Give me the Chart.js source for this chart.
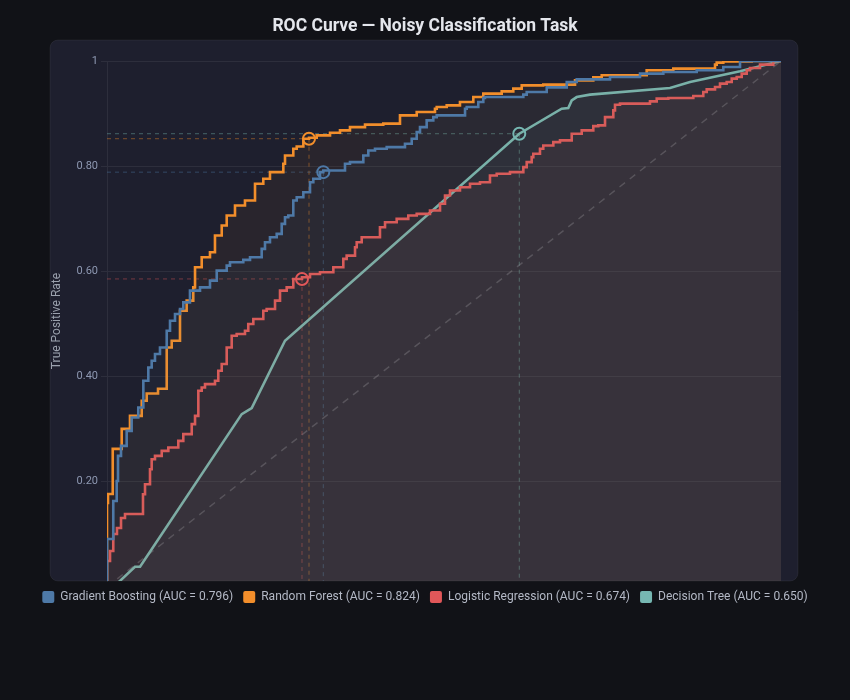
<!DOCTYPE html>
<html>
<head>
<meta charset="utf-8">
<title>ROC Curve</title>
<script src="https://cdn.jsdelivr.net/npm/chart.js@4/dist/chart.umd.min.js"></script>
<style>
  html, body { margin: 0; padding: 0; background: #111217; }
  #wrap { width: 850px; height: 700px; position: relative; }
</style>
</head>
<body>
<div id="wrap"><canvas id="roc"></canvas></div>
<script>
// ---- data ----
const modelNames = ['Gradient Boosting', 'Random Forest', 'Logistic Regression', 'Decision Tree'];
const aucValues = [0.796, 0.824, 0.674, 0.650];
const yTicks = [0.2, 0.4, 0.6, 0.8, 1];

const gbFpr = [0, 0.0045, 0.0093, 0.0144, 0.0163, 0.0208, 0.0292, 0.0366, 0.0464, 0.0539, 0.0613, 0.0663, 0.0712, 0.0786, 0.0886, 0.0935, 0.1009, 0.1083, 0.1132, 0.1231, 0.1231, 0.138, 0.1528, 0.1628, 0.1776, 0.1825, 0.2022, 0.2122, 0.2295, 0.2344, 0.2418, 0.2518, 0.2592, 0.2641, 0.269, 0.2764, 0.2815, 0.2913, 0.3012, 0.3061, 0.316, 0.3209, 0.3531, 0.3605, 0.3803, 0.3877, 0.3976, 0.415, 0.4421, 0.4521, 0.4595, 0.4644, 0.4743, 0.4841, 0.4892, 0.5312, 0.5337, 0.5509, 0.5583, 0.5608, 0.6177, 0.6227, 0.6524, 0.6821, 0.6969, 0.7463, 0.7908, 0.8254, 0.8749, 0.9144, 0.9392, 1];
const gbTpr = [0, 0.0909, 0.0909, 0.1632, 0.2013, 0.249, 0.268, 0.2966, 0.3219, 0.341, 0.3918, 0.4171, 0.4299, 0.4427, 0.4552, 0.487, 0.5061, 0.5189, 0.5284, 0.541, 0.5505, 0.5632, 0.5695, 0.5823, 0.6013, 0.6109, 0.6171, 0.6217, 0.6267, 0.6427, 0.6552, 0.6648, 0.6712, 0.6903, 0.7029, 0.7061, 0.7347, 0.741, 0.7505, 0.7695, 0.776, 0.7886, 0.7918, 0.8046, 0.8076, 0.8204, 0.8299, 0.8331, 0.8362, 0.8427, 0.8522, 0.8648, 0.8743, 0.887, 0.8933, 0.8966, 0.9093, 0.9124, 0.9219, 0.9295, 0.9314, 0.936, 0.941, 0.9499, 0.96, 0.9651, 0.9695, 0.976, 0.979, 0.9823, 0.9886, 1];

const rfFpr = [0, 0.0015, 0.0085, 0.0218, 0.0341, 0.0515, 0.0589, 0.0757, 0.0886, 0.0886, 0.096, 0.1083, 0.1083, 0.1182, 0.128, 0.1306, 0.1405, 0.1528, 0.1602, 0.1702, 0.1776, 0.1899, 0.2047, 0.2196, 0.2319, 0.2418, 0.2616, 0.2641, 0.2764, 0.2815, 0.2913, 0.2997, 0.3111, 0.3309, 0.3457, 0.3605, 0.3828, 0.4099, 0.4347, 0.4347, 0.4595, 0.4866, 0.4892, 0.504, 0.5237, 0.5435, 0.5583, 0.5856, 0.6028, 0.6153, 0.6473, 0.6944, 0.7215, 0.734, 0.8007, 0.8402, 0.9021, 0.9046, 0.9144, 0.9565, 1];
const rfTpr = [0, 0.1594, 0.1766, 0.2623, 0.3004, 0.3251, 0.3537, 0.3676, 0.3766, 0.4299, 0.4552, 0.468, 0.5029, 0.5251, 0.5442, 0.5695, 0.6076, 0.6267, 0.6362, 0.668, 0.687, 0.7061, 0.7251, 0.7347, 0.7665, 0.776, 0.7886, 0.8046, 0.8204, 0.8331, 0.8375, 0.8522, 0.8541, 0.8585, 0.8636, 0.868, 0.8743, 0.8789, 0.8808, 0.8903, 0.8966, 0.9029, 0.9093, 0.9124, 0.9156, 0.9219, 0.9314, 0.9379, 0.9423, 0.9474, 0.9537, 0.955, 0.9632, 0.969, 0.9728, 0.9823, 0.9855, 0.9931, 0.9969, 0.999, 1];

const lrFpr = [0, 0, 0.0045, 0.0093, 0.0148, 0.0208, 0.0267, 0.0297, 0.0534, 0.0564, 0.0638, 0.0663, 0.0712, 0.0812, 0.091, 0.1058, 0.1132, 0.1257, 0.1306, 0.1355, 0.1405, 0.1454, 0.1602, 0.1651, 0.1702, 0.1776, 0.185, 0.1924, 0.2047, 0.2096, 0.2171, 0.2319, 0.2369, 0.2493, 0.2567, 0.2666, 0.2764, 0.2893, 0.3012, 0.316, 0.3358, 0.3506, 0.3556, 0.368, 0.3705, 0.3779, 0.405, 0.4125, 0.4298, 0.447, 0.4595, 0.4792, 0.4941, 0.5015, 0.5089, 0.5237, 0.5386, 0.5534, 0.5682, 0.5782, 0.5979, 0.6177, 0.6227, 0.6301, 0.6325, 0.6424, 0.6473, 0.6622, 0.6721, 0.6895, 0.7043, 0.7215, 0.7289, 0.7389, 0.7512, 0.7537, 0.7611, 0.8056, 0.8156, 0.8328, 0.8699, 0.8847, 0.8898, 0.9021, 0.9095, 0.9194, 0.9269, 0.9343, 0.9417, 0.9491, 0.954, 0.9688, 0.9886, 1];
const lrTpr = [0, 0.0432, 0.049, 0.068, 0.1004, 0.1118, 0.1309, 0.1385, 0.1385, 0.176, 0.195, 0.2236, 0.2427, 0.249, 0.2585, 0.2648, 0.2775, 0.2903, 0.3093, 0.3251, 0.3728, 0.379, 0.3855, 0.3918, 0.4109, 0.4236, 0.4552, 0.4775, 0.4808, 0.487, 0.4998, 0.5093, 0.5251, 0.5284, 0.5442, 0.5632, 0.5695, 0.5855, 0.5886, 0.595, 0.5981, 0.6076, 0.6236, 0.6299, 0.6457, 0.6552, 0.6648, 0.6838, 0.6933, 0.6998, 0.7061, 0.7093, 0.7156, 0.7284, 0.7442, 0.7537, 0.76, 0.7665, 0.7695, 0.7823, 0.7855, 0.7886, 0.7981, 0.8076, 0.8171, 0.8236, 0.8331, 0.8394, 0.8457, 0.849, 0.8617, 0.868, 0.8762, 0.8775, 0.8933, 0.9061, 0.9169, 0.9189, 0.9232, 0.9284, 0.9295, 0.9333, 0.941, 0.9461, 0.9505, 0.957, 0.96, 0.9665, 0.9695, 0.976, 0.9823, 0.9867, 0.9931, 1];

const dtFpr = [0.01, 0.0415, 0.049, 0.1999, 0.2147, 0.2641, 0.6117, 0.6746, 0.6844, 0.6895, 0.6969, 0.7166, 0.8353, 0.865, 0.9392, 1];
const dtTpr = [0, 0.0381, 0.0381, 0.3284, 0.3398, 0.468, 0.8617, 0.9093, 0.9105, 0.9251, 0.9314, 0.936, 0.9486, 0.96, 0.9804, 1];

// operating points (circled) per model
const opFpr = [0.3209, 0.2997, 0.2893, 0.6117];
const opTpr = [0.7886, 0.8522, 0.5855, 0.8617];

// ---- styling ----
const colors = ['#4e79a7', '#f28e2b', '#e15759', '#76b7b2'];
const fprs = [gbFpr, rfFpr, lrFpr, dtFpr];
const tprs = [gbTpr, rfTpr, lrTpr, dtTpr];
const steppedCurve = [true, true, true, false];

function pts(xs, ys) {
    return xs.map((x, i) => ({ x: x, y: ys[i] }));
}
function alpha(hex, a) {
    const n = parseInt(hex.slice(1), 16);
    return `rgba(${n >> 16}, ${(n >> 8) & 255}, ${n & 255}, ${a})`;
}

const datasets = [];
modelNames.forEach((name, i) => {
    // the ROC curve itself
    datasets.push({
        label: `${name} (AUC = ${aucValues[i].toFixed(3)})`,
        data: pts(fprs[i], tprs[i]),
        borderColor: colors[i],
        backgroundColor: alpha(colors[i], 0.055),
        borderWidth: 2.6,
        fill: 'origin',
        stepped: steppedCurve[i] ? 'after' : false,
        pointRadius: 0,
        order: 1
    });
});
modelNames.forEach((name, i) => {
    // circled threshold marker
    datasets.push({
        data: [{ x: opFpr[i], y: opTpr[i] }],
        showLine: false,
        pointRadius: 6,
        pointBorderWidth: 2,
        pointBorderColor: colors[i],
        pointBackgroundColor: 'rgba(0,0,0,0)',
        order: 0
    });
    // dashed guides to the axes
    datasets.push({
        data: [{ x: 0, y: opTpr[i] }, { x: opFpr[i], y: opTpr[i] }],
        borderColor: alpha(colors[i], 0.45),
        borderWidth: 1,
        borderDash: [4, 4],
        pointRadius: 0,
        fill: false,
        order: 2
    });
    datasets.push({
        data: [{ x: opFpr[i], y: opTpr[i] }, { x: opFpr[i], y: 0 }],
        borderColor: alpha(colors[i], 0.45),
        borderWidth: 1,
        borderDash: [4, 4],
        pointRadius: 0,
        fill: false,
        order: 2
    });
});
// chance diagonal
datasets.push({
    data: [{ x: 0, y: 0 }, { x: 1, y: 1 }],
    borderColor: 'rgba(170,170,180,0.3)',
    borderWidth: 1.5,
    borderDash: [7, 6],
    pointRadius: 0,
    fill: false,
    order: 3
});

// rounded panel behind the plot
const panelBg = {
    id: 'panelBg',
    beforeDraw(chart) {
        const { ctx, chartArea: a } = chart;
        ctx.save();
        ctx.beginPath();
        ctx.roundRect(a.left - 57, a.top - 21, a.width + 74, a.height + 21, 8);
        ctx.fillStyle = '#1e1f2e';
        ctx.fill();
        ctx.strokeStyle = 'rgba(255,255,255,0.06)';
        ctx.lineWidth = 1;
        ctx.stroke();
        ctx.restore();
    }
};

Chart.defaults.font.family = 'Roboto, "Noto Sans", sans-serif';

new Chart(document.getElementById('roc'), {
    type: 'line',
    data: { datasets: datasets },
    options: {
        responsive: true,
        maintainAspectRatio: false,
        animation: false,
        events: [],
        layout: { padding: { top: 6, left: 0, right: 0, bottom: 87 } },
        scales: {
            x: { type: 'linear', min: 0, max: 1, display: false },
            y: {
                min: 0.011,
                max: 1,
                afterBuildTicks: axis => { axis.ticks = yTicks.map(v => ({ value: v })); },
                afterFit: axis => { axis.width = 107; },
                ticks: {
                    color: '#8e98b2',
                    font: { size: 11 },
                    padding: 3,
                    callback: v => (v === 1 ? '1' : v.toFixed(2))
                },
                grid: { color: 'rgba(255,255,255,0.07)', tickLength: 6 },
                border: { color: 'rgba(255,255,255,0.07)' },
                title: {
                    display: true,
                    text: 'True Positive Rate',
                    color: '#9ba1ae',
                    font: { size: 12 },
                    padding: { top: 50, bottom: 12 }
                }
            },
            // empty right-hand axis that only reserves the panel's right margin
            yRight: {
                position: 'right',
                display: true,
                min: 0,
                max: 1,
                afterFit: axis => { axis.width = 69; },
                ticks: { display: false },
                grid: { display: false },
                border: { display: false }
            }
        },
        plugins: {
            title: {
                display: true,
                text: 'ROC Curve — Noisy Classification Task',
                color: '#e4e6ec',
                font: { size: 17.5, weight: 'bold' },
                padding: { top: 10, bottom: 24 }
            },
            legend: {
                position: 'bottom',
                labels: {
                    color: '#b4b9c6',
                    font: { size: 12 },
                    boxWidth: 12,
                    boxHeight: 12,
                    useBorderRadius: true,
                    borderRadius: 2,
                    padding: 10,
                    generateLabels: () => modelNames.map((name, i) => ({
                        text: `${name} (AUC = ${aucValues[i].toFixed(3)})`,
                        fillStyle: colors[i],
                        strokeStyle: colors[i],
                        lineWidth: 0,
                        fontColor: '#b4b9c6',
                        datasetIndex: i,
                        hidden: false,
                        borderRadius: 2
                    }))
                }
            },
            tooltip: { enabled: false }
        }
    },
    plugins: [panelBg]
});
</script>
</body>
</html>
